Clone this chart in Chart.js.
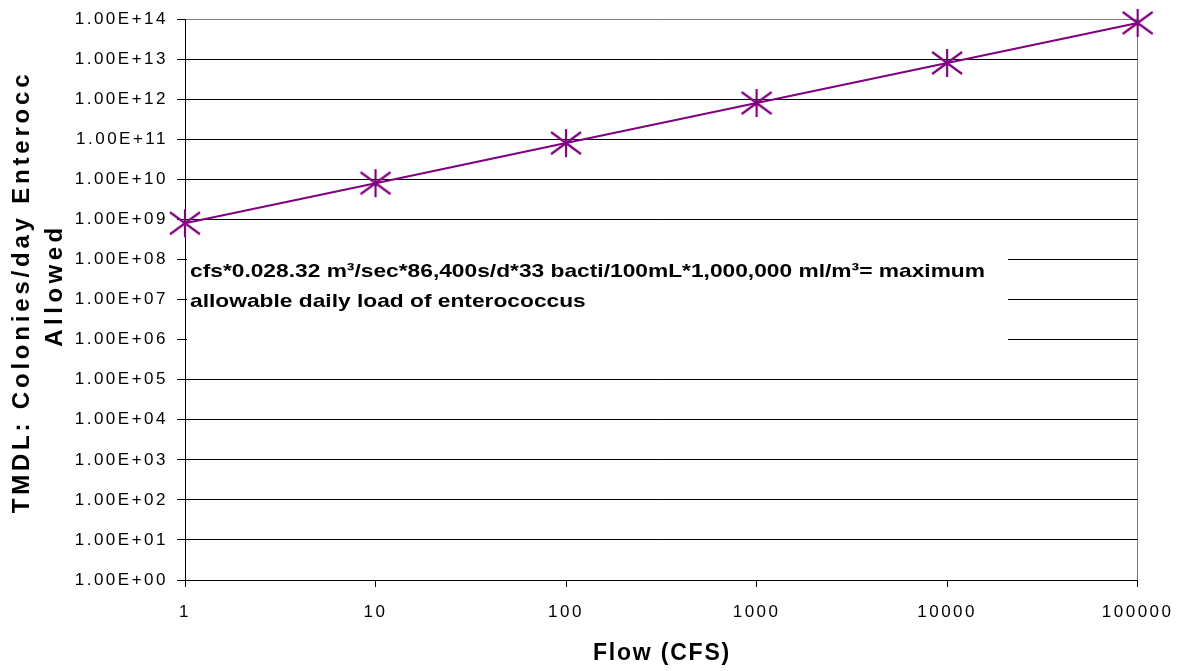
<!DOCTYPE html>
<html>
<head>
<meta charset="utf-8">
<script src="https://cdn.jsdelivr.net/npm/chart.js@4.4.0/dist/chart.umd.min.js"></script>
<style>
  html, body { margin: 0; padding: 0; background: #fff; }
</style>
</head>
<body>
<canvas id="chart" width="1181" height="671"></canvas>
<script>
// data
const flowCfs = [1, 10, 100, 1000, 10000, 100000];
const colonies = [8.07e8, 8.07e9, 8.07e10, 8.07e11, 8.07e12, 8.07e13];
const xTicks = [1, 10, 100, 1000, 10000, 100000];
const yTicks = [1e0, 1e1, 1e2, 1e3, 1e4, 1e5, 1e6, 1e7, 1e8, 1e9, 1e10, 1e11, 1e12, 1e13, 1e14];
const yTitle = ["TMDL: Colonies/day Enterocc", "Allowed"];
const xTitle = "Flow (CFS)";
const noteLines = [
  "cfs*0.028.32 m\u00B3/sec*86,400s/d*33 bacti/100mL*1,000,000 ml/m\u00B3= maximum",
  "allowable daily load of enterococcus"
];

const FONT = "'Liberation Sans', Arial, sans-serif";
const PURPLE = "#800080";

// asterisk marker: vertical bar plus an X
function makeStar() {
  const c = document.createElement("canvas");
  c.width = 34; c.height = 34;
  const g = c.getContext("2d");
  g.strokeStyle = PURPLE;
  g.lineWidth = 2.2;
  g.beginPath();
  g.moveTo(17, 3); g.lineTo(17, 31);
  g.moveTo(2, 6); g.lineTo(32, 28);
  g.moveTo(32, 6); g.lineTo(2, 28);
  g.stroke();
  return c;
}

function sci(v) {
  const e = Math.round(Math.log10(v));
  return "1.00E+" + String(e).padStart(2, "0");
}

const extras = {
  id: "extras",
  beforeDraw(chart) {
    // tick labels in the reference are spaced out a bit
    chart.ctx.letterSpacing = "2.5px";
  },
  beforeDatasetsDraw(chart) {
    const ctx = chart.ctx;
    ctx.save();
    // white text box over the gridlines
    ctx.fillStyle = "#fff";
    ctx.fillRect(187, 241, 821, 104);
    ctx.fillStyle = "#000";
    ctx.letterSpacing = "0px";
    ctx.font = "bold 19px " + FONT;
    ctx.textBaseline = "alphabetic";
    ctx.textAlign = "left";
    const w = ctx.measureText(noteLines[0]).width;
    ctx.translate(190, 0);
    ctx.scale(795 / w, 1);
    ctx.fillText(noteLines[0], 0, 277);
    ctx.fillText(noteLines[1], 0, 307);
    ctx.restore();
  },
  afterDraw(chart) {
    const ctx = chart.ctx;
    ctx.save();
    ctx.fillStyle = "#000";
    ctx.textAlign = "center";
    ctx.textBaseline = "middle";
    // x axis title
    ctx.font = "bold 23px " + FONT;
    ctx.letterSpacing = "1.8px";
    ctx.fillText(xTitle, 662, 654);
    // y axis title, rotated
    ctx.font = "bold 24px " + FONT;
    ctx.letterSpacing = "3.8px";
    ctx.save();
    ctx.translate(22.5, 292);
    ctx.rotate(-Math.PI / 2);
    ctx.fillText(yTitle[0], 0, 0);
    ctx.restore();
    ctx.letterSpacing = "4.5px";
    ctx.save();
    ctx.translate(55, 285);
    ctx.rotate(-Math.PI / 2);
    ctx.fillText(yTitle[1], 0, 0);
    ctx.restore();
    ctx.restore();
  }
};

new Chart(document.getElementById("chart"), {
  type: "line",
  data: {
    datasets: [{
      data: flowCfs.map((x, i) => ({ x: x, y: colonies[i] })),
      borderColor: PURPLE,
      borderWidth: 2,
      pointStyle: makeStar(),
      pointRadius: 15,
      tension: 0,
      clip: false
    }]
  },
  options: {
    responsive: false,
    animation: false,
    devicePixelRatio: 1,
    layout: { padding: { top: 16, right: 43, left: 0, bottom: 0 } },
    plugins: {
      legend: { display: false },
      tooltip: { enabled: false }
    },
    scales: {
      x: {
        type: "logarithmic",
        min: 1,
        max: 100000,
        afterBuildTicks: s => { s.ticks = xTicks.map(v => ({ value: v })); },
        afterFit: s => { s.height = 91; },
        ticks: {
          callback: v => String(v),
          font: { family: FONT, size: 17 },
          color: "#000",
          padding: 15,
          maxRotation: 0,
          autoSkip: false
        },
        grid: {
          color: c => (c.tick && c.tick.value === 100000 ? "#808080" : "rgba(0,0,0,0)"),
          tickColor: "#000",
          tickLength: 7,
          lineWidth: 1
        },
        border: { color: "#000", width: 1 }
      },
      y: {
        type: "logarithmic",
        min: 1,
        max: 1e14,
        afterBuildTicks: s => { s.ticks = yTicks.map(v => ({ value: v })); },
        afterFit: s => { s.width = 185; },
        ticks: {
          callback: v => sci(v),
          font: { family: FONT, size: 17 },
          color: "#000",
          padding: 9,
          autoSkip: false
        },
        grid: {
          color: c => (c.tick && c.tick.value === 1e14 ? "#808080" : "#000"),
          tickColor: "#000",
          tickLength: 8,
          lineWidth: 1
        },
        border: { color: "#000", width: 1 }
      }
    }
  },
  plugins: [extras]
});
</script>
</body>
</html>
